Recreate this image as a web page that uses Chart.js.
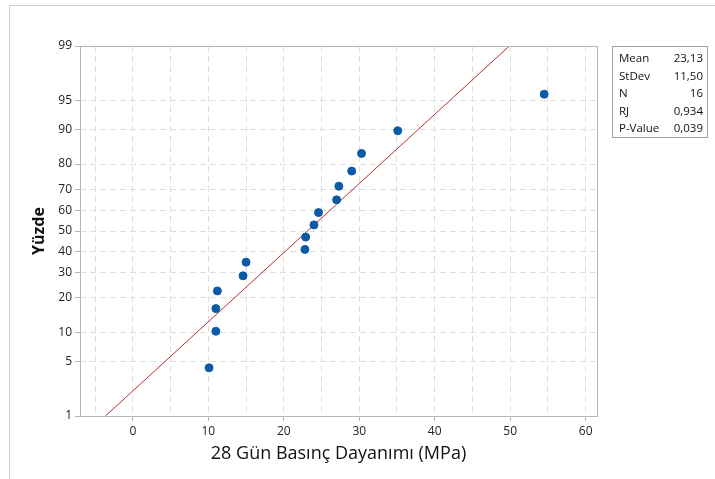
<!DOCTYPE html>
<html>
<head>
<meta charset="utf-8">
<script src="https://cdn.jsdelivr.net/npm/chart.js@4.4.1/dist/chart.umd.min.js"></script>
<style>
  html, body { margin: 0; padding: 0; background: #fff; }
  #wrap { width: 715px; height: 479px; position: relative; }
</style>
</head>
<body>
<div id="wrap"><canvas id="prob_chart" width="715" height="479"></canvas></div>
<script>
// measured strengths (MPa), sorted
var strengths = [10.1, 11.0, 11.0, 11.2, 14.6, 15.0, 22.8, 22.9, 24.0, 24.6, 27.0, 27.3, 29.0, 30.3, 35.1, 54.5];
var percentTicks = [1, 5, 10, 20, 30, 40, 50, 60, 70, 80, 90, 95, 99];
var xTickLabels = [0, 10, 20, 30, 40, 50, 60];
var fitMean = 23.13;
var fitStDev = 11.50;
var statNames = ["Mean", "StDev", "N", "RJ", "P-Value"];
var statValues = ["23,13", "11,50", "16", "0,934", "0,039"];

// inverse normal cdf (Acklam)
function normInv(p) {
    var a = [-3.969683028665376e+01, 2.209460984245205e+02, -2.759285104469687e+02, 1.383577518672690e+02, -3.066479806614716e+01, 2.506628277459239e+00];
    var b = [-5.447609879822406e+01, 1.615858368580409e+02, -1.556989798598866e+02, 6.680131188771972e+01, -1.328068155288572e+01];
    var c = [-7.784894002430293e-03, -3.223964580411365e-01, -2.400758277161838e+00, -2.549732539343734e+00, 4.374664141464968e+00, 2.938163982698783e+00];
    var d = [7.784695709041462e-03, 3.224671290700398e-01, 2.445134137142996e+00, 3.754408661907416e+00];
    var q, r;
    if (p < 0.02425) {
        q = Math.sqrt(-2 * Math.log(p));
        return (((((c[0]*q+c[1])*q+c[2])*q+c[3])*q+c[4])*q+c[5]) / ((((d[0]*q+d[1])*q+d[2])*q+d[3])*q+1);
    } else if (p > 1 - 0.02425) {
        q = Math.sqrt(-2 * Math.log(1 - p));
        return -(((((c[0]*q+c[1])*q+c[2])*q+c[3])*q+c[4])*q+c[5]) / ((((d[0]*q+d[1])*q+d[2])*q+d[3])*q+1);
    }
    q = p - 0.5;
    r = q * q;
    return (((((a[0]*r+a[1])*r+a[2])*r+a[3])*r+a[4])*r+a[5])*q / (((((b[0]*r+b[1])*r+b[2])*r+b[3])*r+b[4])*r+1);
}

var n = strengths.length;
var points = strengths.map(function (v, i) {
    return { x: v, y: normInv((i + 1 - 0.3) / (n + 0.4)) };
});
var zMin = normInv(0.01), zMax = normInv(0.99);
var fitLine = [
    { x: fitMean + fitStDev * zMin, y: zMin },
    { x: fitMean + fitStDev * zMax, y: zMax }
];

var framePlugin = {
    id: 'frame',
    afterDraw: function (chart) {
        var ctx = chart.ctx, a = chart.chartArea;
        ctx.save();
        ctx.strokeStyle = '#cfcfcf';
        ctx.lineWidth = 1;
        ctx.strokeRect(9.5, 5.5, 720, 490);
        ctx.strokeStyle = '#b4b4b4';
        ctx.strokeRect(Math.round(a.left) + 0.5, Math.round(a.top) + 0.5, Math.round(a.right - a.left), Math.round(a.bottom - a.top));
        // stats box
        ctx.strokeStyle = '#a0a0a0';
        ctx.strokeRect(612.5, 46.5, 95, 91);
        ctx.fillStyle = '#111';
        ctx.font = '11.5px "Open Sans", sans-serif';
        ctx.textBaseline = 'middle';
        for (var i = 0; i < statNames.length; i++) {
            var y = 59 + i * 17.5;
            ctx.textAlign = 'left';
            ctx.fillText(statNames[i], 619, y);
            ctx.textAlign = 'right';
            ctx.fillText(statValues[i], 703, y);
        }
        ctx.restore();
    }
};

new Chart(document.getElementById("prob_chart").getContext("2d"), {
    type: 'scatter',
    data: {
        datasets: [{
            label: 'Data',
            data: points,
            backgroundColor: '#0B5AA6',
            borderColor: '#0B5AA6',
            pointRadius: 4,
            pointHoverRadius: 4,
            order: 0
        }, {
            label: 'Fit',
            type: 'line',
            data: fitLine,
            borderColor: '#B4302E',
            borderWidth: 1,
            pointRadius: 0,
            fill: false,
            order: 1
        }]
    },
    options: {
        responsive: false,
        animation: false,
        layout: { padding: { top: 46, right: 118, left: 30, bottom: 14 } },
        plugins: { legend: { display: false }, tooltip: { enabled: false } },
        scales: {
            x: {
                type: 'linear',
                min: -7,
                max: 61.5,
                afterBuildTicks: function (scale) {
                    var t = [];
                    for (var v = -5; v <= 60; v += 5) t.push({ value: v });
                    scale.ticks = t;
                },
                afterFit: function (scale) { scale.height = 49; },
                ticks: {
                    autoSkip: false,
                    maxRotation: 0,
                    padding: 3,
                    color: '#222',
                    font: { family: '"Open Sans", sans-serif', size: 12 },
                    callback: function (v) { return xTickLabels.indexOf(v) >= 0 ? String(v) : ''; }
                },
                grid: {
                    color: '#dedede',
                    tickLength: 5,
                    tickColor: function (ctx) { return (ctx.tick && ctx.tick.value % 10 === 0) ? '#b4b4b4' : 'rgba(0,0,0,0)'; },
                    tickBorderDash: []
                },
                border: { display: false, dash: [6, 4] },
                title: {
                    display: true,
                    text: '28 Gün Basınç Dayanımı (MPa)',
                    color: '#111',
                    font: { family: '"Open Sans", sans-serif', size: 18 },
                    padding: { top: 0, bottom: 0 }
                }
            },
            y: {
                type: 'linear',
                min: zMin,
                max: zMax,
                afterBuildTicks: function (scale) {
                    scale.ticks = percentTicks.map(function (p) { return { value: normInv(p / 100) }; });
                },
                afterFit: function (scale) { scale.width = 50; },
                ticks: {
                    autoSkip: false,
                    padding: 3,
                    color: '#222',
                    font: { family: '"Open Sans", sans-serif', size: 12 },
                    callback: function (v, i) { return String(percentTicks[i]); }
                },
                grid: {
                    color: '#dedede',
                    tickLength: 5,
                    tickColor: '#b4b4b4',
                    tickBorderDash: []
                },
                border: { display: false, dash: [6, 4] },
                title: {
                    display: true,
                    text: 'Yüzde',
                    color: '#111',
                    font: { family: '"Open Sans", sans-serif', size: 16, weight: 'bold' },
                    padding: { top: 0, bottom: 0 }
                }
            }
        }
    },
    plugins: [framePlugin]
});
</script>
</body>
</html>
